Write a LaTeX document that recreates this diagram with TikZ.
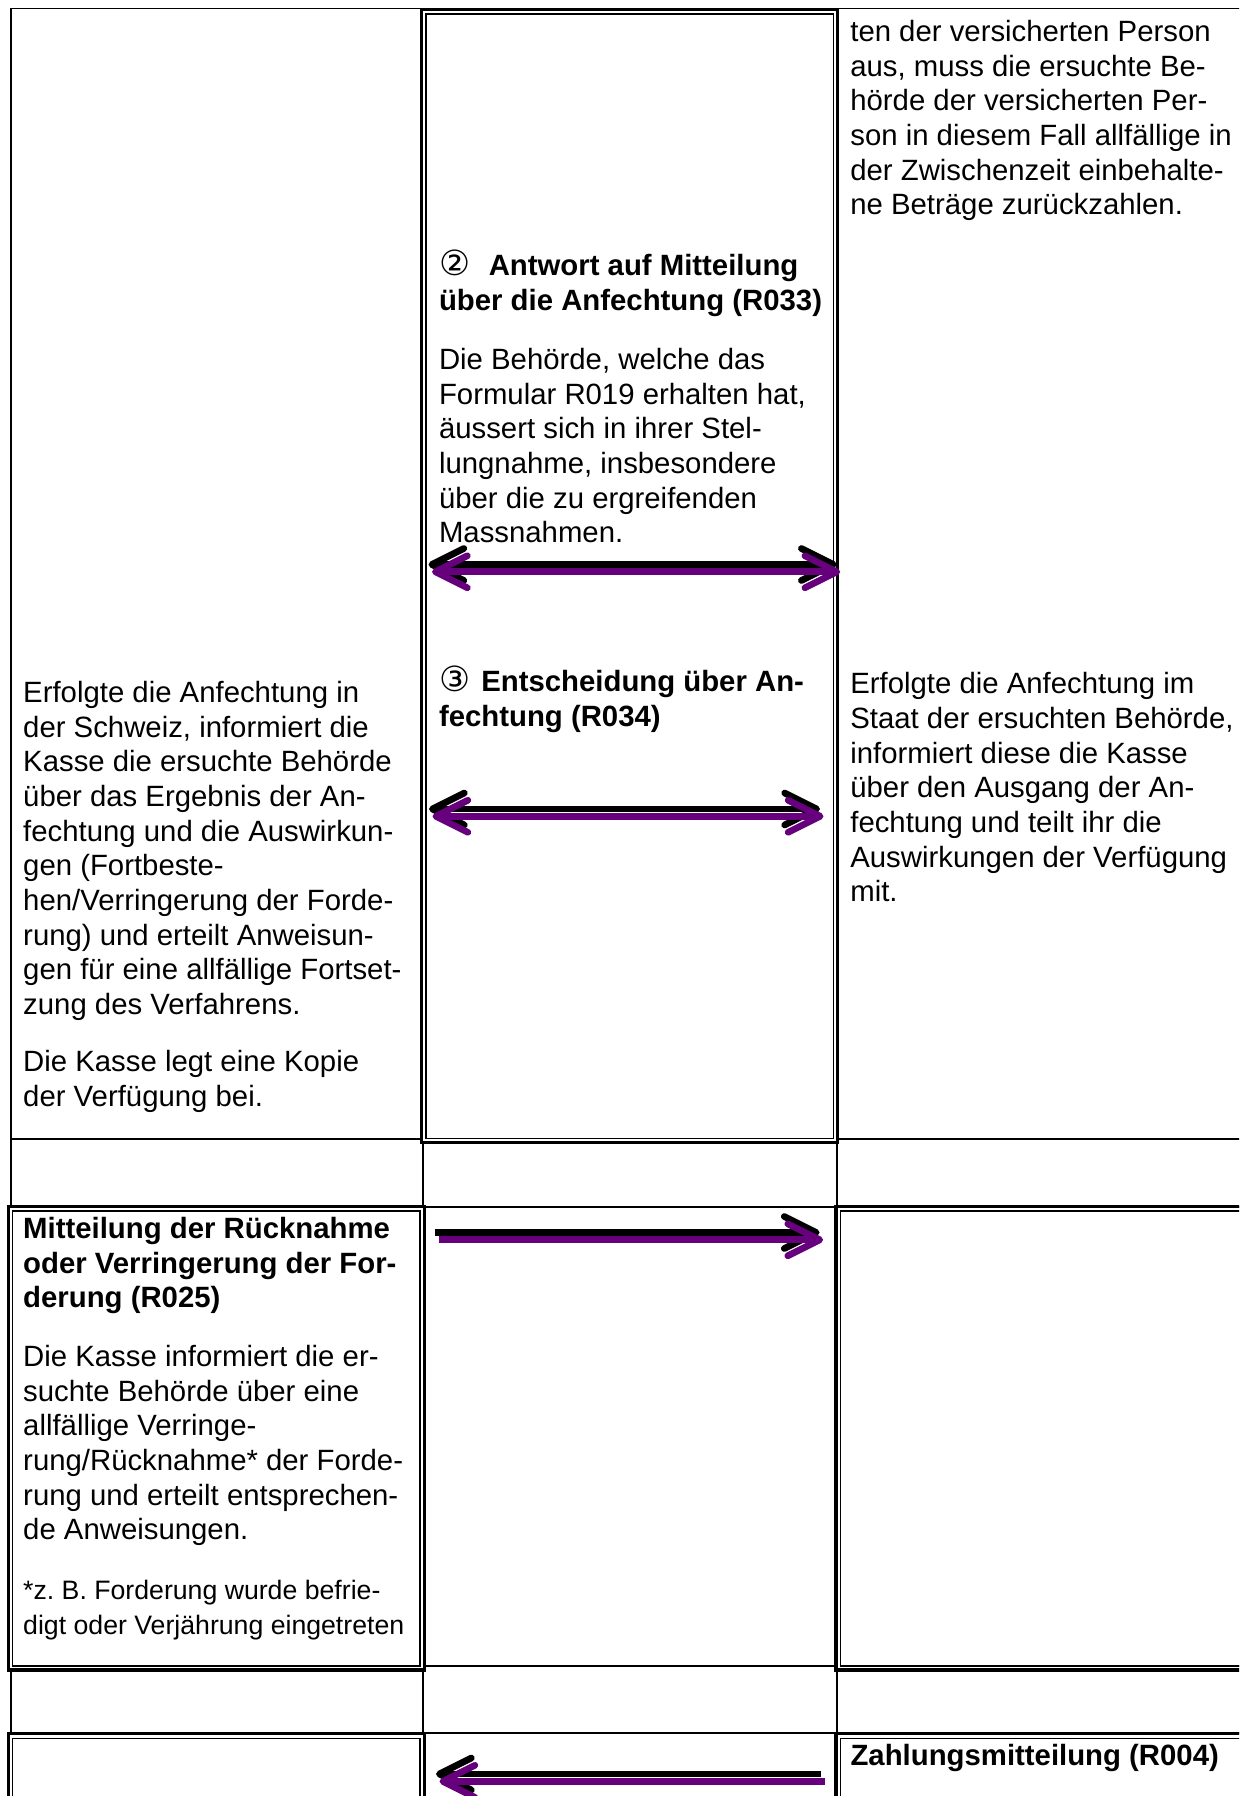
\documentclass[tikz,border=0pt]{standalone}
\usepackage{fontspec}
\setmainfont{Liberation Sans}
\newfontfamily\circfont{DejaVu Sans}
\usetikzlibrary{arrows.meta}

\definecolor{violett}{RGB}{102,0,124}

\newcommand{\lines}[1]{\begin{tabular}[t]{@{}l@{}}#1\end{tabular}}
\newcommand{\stepno}[1]{{\circfont\fontsize{13pt}{13pt}\selectfont #1}}

\tikzset{
	gridline/.style = {line width = 0.6pt},
	thickline/.style = {line width = 1.25pt},
	txt/.style = {anchor = base west, inner sep = 0pt, font = \fontsize{11pt}{13pt}\selectfont},
	smalltxt/.style = {txt, font = \fontsize{10pt}{13pt}\selectfont},
	msgtip/.tip = {Straight Barb[length = 12pt, width = 12pt, round]},
	msg/.style = {line width = 2.5pt}
}

\frenchspacing

\begin{document}
\begin{tikzpicture}[x = 0.375pt, y = -0.375pt]

% Definitions

\def\sh{(3.5, 7.3)}

\useasboundingbox (0, 0) rectangle (1239, 1796);
\clip (0, 0) rectangle (1239, 1796);

% Table grid

\foreach \xx in {10.7, 422.7, 836.7}
	\draw [gridline] (\xx, 8.5) -- (\xx, 1800);
\foreach \yy in {8.5, 1139, 1207, 1666, 1733}
	\draw [gridline] (10.7, \yy) -- (1250, \yy);

% Framed cells (thick outside, thin inside)

\foreach \xa/\ya/\xb/\yb in {421.5/9.3/837.7/1142.7, 8.3/1206.4/424.2/1670, 836/1206.4/1260/1670, 8.3/1733.7/424.2/1810, 836/1733.7/1260/1810}
{
	\draw [thickline, fill = white] (\xa, \ya) rectangle (\xb, \yb);
	\draw [gridline] (\xa + 4.3, \ya + 4.6) rectangle (\xb - 4.3, \yb - 4.3);
}

% Left column

\node [txt] (anfch) at (22.7, 702.5) {\lines{Erfolgte die Anfechtung in\\
	der Schweiz, informiert die\\
	Kasse die ersuchte Behörde\\
	über das Ergebnis der An-\\
	fechtung und die Auswirkun-\\
	gen (Fortbeste-\\
	hen/Verringerung der Forde-\\
	rung) und erteilt Anweisun-\\
	gen für eine allfällige Fortset-\\
	zung des Verfahrens.}};
\node [txt] (kopie) at (22.7, 1071.5) {\lines{Die Kasse legt eine Kopie\\ der Verfügung bei.}};

\node [txt, font = \fontsize{11pt}{13pt}\selectfont\bfseries] (r025) at (22.7, 1238.6) {\lines{Mitteilung der Rücknahme\\
	oder Verringerung der For-\\
	derung (R025)}};
\node [txt] (r025txt) at (22.7, 1366.6) {\lines{Die Kasse informiert die er-\\
	suchte Behörde über eine\\
	allfällige Verringe-\\
	rung/Rücknahme* der Forde-\\
	rung und erteilt entsprechen-\\
	de Anweisungen.}};
\node [smalltxt] (r025note) at (22.7, 1599.5) {\lines{*z. B. Forderung wurde befrie-\\
	digt oder Verjährung eingetreten}};

% Middle column

\node [txt] (r033) at (438.5, 276) {\lines{\stepno{②}\hspace{7pt}\textbf{Antwort auf Mitteilung}\\
	\textbf{über die Anfechtung (R033)}}};
\node [txt] (r033txt) at (438.5, 369.5) {\lines{Die Behörde, welche das\\
	Formular R019 erhalten hat,\\
	äussert sich in ihrer Stel-\\
	lungnahme, insbesondere\\
	über die zu ergreifenden\\
	Massnahmen.}};
\node [txt] (r034) at (438.5, 691.6) {\lines{\stepno{③}\hspace{4.2pt}\textbf{Entscheidung über An-}\\
	\textbf{fechtung (R034)}}};

% Right column

\node [txt] (zurueck) at (849.8, 41.5) {\lines{ten der versicherten Person\\
	aus, muss die ersuchte Be-\\
	hörde der versicherten Per-\\
	son in diesem Fall allfällige in\\
	der Zwischenzeit einbehalte-\\
	ne Beträge zurückzahlen.}};
\node [txt] (ausgang) at (849.8, 693.8) {\lines{Erfolgte die Anfechtung im\\
	Staat der ersuchten Behörde,\\
	informiert diese die Kasse\\
	über den Ausgang der An-\\
	fechtung und teilt ihr die\\
	Auswirkungen der Verfügung\\
	mit.}};
\node [txt, font = \fontsize{11pt}{13pt}\selectfont\bfseries] (r004) at (850, 1765.7) {Zahlungsmitteilung (R004)};

% Message arrows (black, then violet shadow)

\coordinate (r033l) at (428.5, 564.5);
\coordinate (r033r) at (836.7, 564.5);
\coordinate (r034l) at (429, 809);
\coordinate (r034r) at (820, 809);
\coordinate (r025l) at (435, 1232.5);
\coordinate (r025r) at (819.6, 1232.5);
\coordinate (r004l) at (436, 1774);
\coordinate (r004r) at (821, 1774);

\draw [msg, msgtip-msgtip] (r033l) -- (r033r);
\draw [msg, violett, msgtip-msgtip] ([shift = \sh] r033l) -- ([shift = \sh] r033r);

\draw [msg, msgtip-msgtip] (r034l) -- (r034r);
\draw [msg, violett, msgtip-msgtip] ([shift = \sh] r034l) -- ([shift = \sh] r034r);

\draw [msg, -msgtip] (r025l) -- (r025r);
\draw [msg, violett, -msgtip] ([shift = \sh] r025l) -- ([shift = \sh] r025r);

\draw [msg, -msgtip] (r004r) -- (r004l);
\draw [msg, violett, -msgtip] ([shift = \sh] r004r) -- ([shift = \sh] r004l);

\end{tikzpicture}
\end{document}
